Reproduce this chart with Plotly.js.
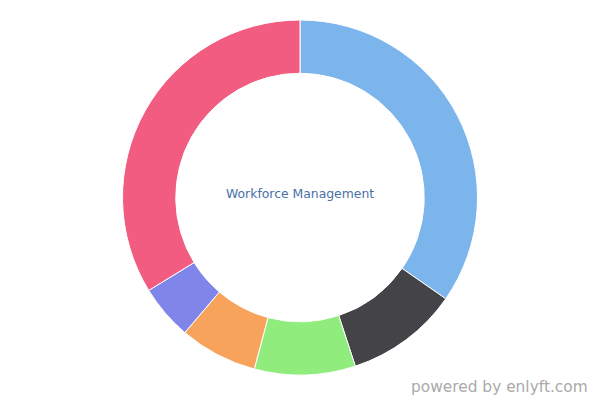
<!DOCTYPE html>
<html>
<head>
<meta charset="utf-8">
<script src="https://cdn.plot.ly/plotly-3.0.1.min.js"></script>
<style>html,body{margin:0;padding:0;background:#fff;}#chart{width:600px;height:400px;}</style>
</head>
<body>
<div id="chart"></div>
<script>
const categories = ["Segment A", "Segment B", "Segment C", "Segment D", "Segment E", "Segment F"];
const values = [34.7, 10.3, 9.2, 7.1, 5.0, 33.8];
const colors = ["#7cb5ec", "#434348", "#90ed7d", "#f7a35c", "#8085e9", "#f15c80"];
const centerTitle = "Workforce Management";
const creditText = "powered by enlyft.com";

const trace = {
  type: "pie",
  labels: categories,
  values: values,
  hole: 0.7,
  sort: false,
  direction: "clockwise",
  rotation: 0,
  textinfo: "none",
  hoverinfo: "none",
  marker: {colors: colors, line: {color: "#ffffff", width: 1}},
  domain: {x: [0, 1], y: [0.0625, 0.95]}
};

const layout = {
  width: 600,
  height: 400,
  margin: {l: 0, r: 0, t: 0, b: 0},
  paper_bgcolor: "#ffffff",
  showlegend: false,
  annotations: [
    {text: centerTitle, x: 0.5, xref: "paper", y: 207/400, yref: "paper", yanchor: "middle", xanchor: "center",
     showarrow: false, font: {family: "DejaVu Sans, sans-serif", size: 12.4, color: "#4a70a6"}},
    {text: creditText, x: 590/600, xref: "paper", y: 2/400, yref: "paper", xanchor: "right", yanchor: "bottom",
     showarrow: false, font: {family: "DejaVu Sans, sans-serif", size: 15.4, color: "#aaaaaa"}}
  ]
};

Plotly.newPlot("chart", [trace], layout, {displayModeBar: false, staticPlot: true});
</script>
</body>
</html>
